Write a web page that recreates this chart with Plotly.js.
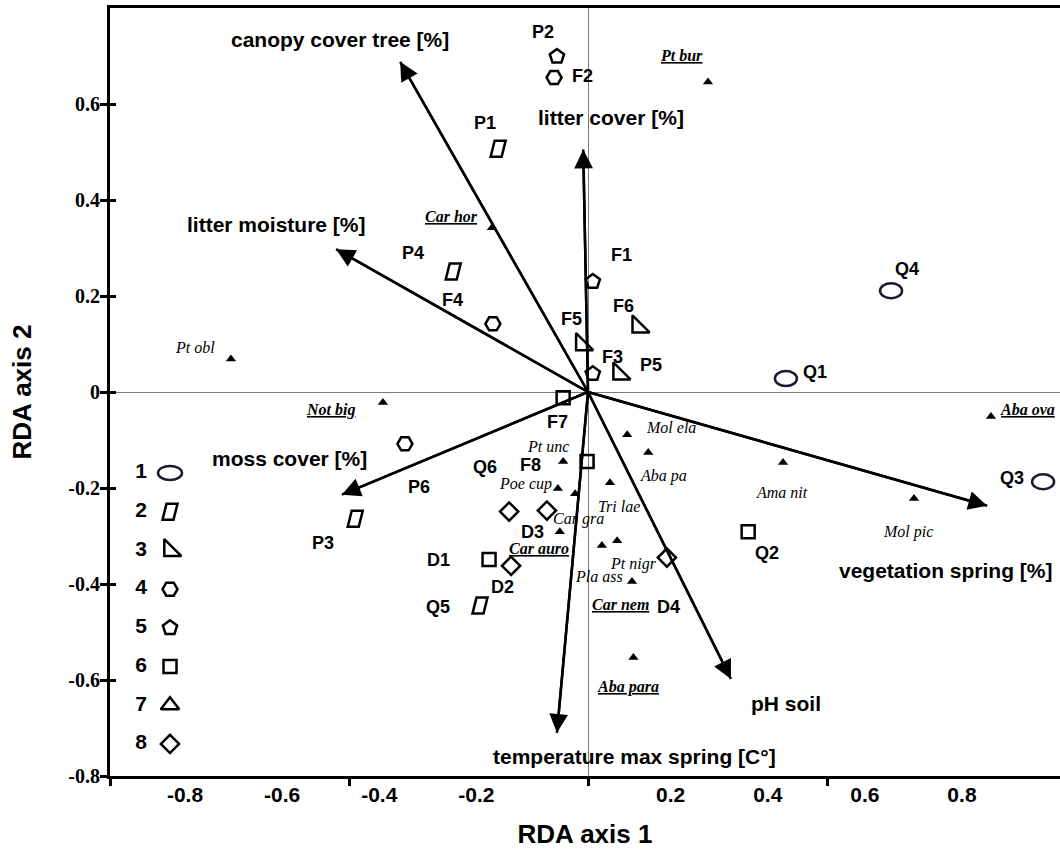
<!DOCTYPE html>
<html><head><meta charset="utf-8">
<script src="https://cdn.plot.ly/plotly-3.0.1.min.js"></script>
<style>html,body{margin:0;padding:0;background:#fff}#chart{width:1060px;height:849px}</style>
</head><body><div id="chart"></div>
<script>
// ---------------- DATA ----------------
// Sites (sample scores), legend group 1..8
const siteNames = ['Q1','Q3','Q4','P1','P4','P3','Q5','F5','F6','P5','F2','F4','P6','P2','F1','F3','F7','F8','D1','Q2','Q6','D3','D2','D4'];
const siteGroup = [1,1,1,2,2,2,2,3,3,3,4,4,4,5,5,5,6,6,6,6,8,8,8,8];
const siteX = [0.414,0.952,0.634,-0.188,-0.282,-0.487,-0.226,-0.013,0.105,0.065,-0.071,-0.199,-0.383,-0.065,0.010,0.010,-0.052,-0.002,-0.207,0.335,-0.165,-0.086,-0.161,0.165];
const siteY = [0.028,-0.187,0.211,0.507,0.251,-0.264,-0.445,0.099,0.136,0.038,0.655,0.142,-0.108,0.699,0.230,0.038,-0.012,-0.145,-0.349,-0.291,-0.249,-0.247,-0.362,-0.345];

// Species scores
const speciesNames = ['Pt bur','Car hor','Pt obl','Not big','Mol ela','Aba pa','Pt unc','Poe cup','Car gra','Car auro','Tri lae','Pla ass','Pt nigr','Car nem','Aba para','Ama nit','Mol pic','Aba ova'];
const speciesX = [0.251,-0.201,-0.747,-0.429,0.082,0.126,-0.052,-0.063,-0.027,-0.059,0.046,0.029,0.061,0.092,0.095,0.408,0.682,0.843];
const speciesY = [0.646,0.342,0.069,-0.022,-0.089,-0.126,-0.145,-0.201,-0.212,-0.291,-0.189,-0.320,-0.310,-0.395,-0.553,-0.147,-0.222,-0.051];

// Environmental variables (biplot arrows)
const envNames = ['canopy cover tree [%]','litter cover [%]','litter moisture [%]','moss cover [%]','vegetation spring [%]','pH soil','temperature max spring [C°]'];
const envX = [-0.393,-0.010,-0.527,-0.515,0.835,0.299,-0.065];
const envY = [0.688,0.505,0.2975,-0.214,-0.237,-0.598,-0.710];

// Legend categories
const legendLabels = ['1','2','3','4','5','6','7','8'];

// Axis ticks
const xTickMarks = [-1,-0.5,0,0.5];
const xLabelVals = [-0.8,-0.6,-0.4,-0.2,0.2,0.4,0.6,0.8];
const xLabelText = ['-0.8','-0.6','-0.4','-0.2','0.2','0.4','0.6','0.8'];
const yTickVals = [0.6,0.4,0.2,0,-0.2,-0.4,-0.6,-0.8];
const yTickText = ['0.6','0.4','0.2','0','-0.2','-0.4','-0.6','-0.8'];

// ---------------- LAYOUT / STYLE ----------------
// label offsets in pixels (dx right, dy down)
const siteLabelDx = [29,-31,16,-13,-40,-32,-42,-10,-15,32,28,-40,14,-14,29,20,-6,-57,-51,19,-24,-14,-9,2];
const siteLabelDy = [-7,-4,-22,-26,-19,24,1,-25,-21,-9,-2,-24,43,-24,-27,-17,24,3,0,21,-45,21,21,49];
const speciesLabelDx = [-26,-40,-36,-52,44,15,-15,-32,3,-21,9,-3,16,-11,-5,-1,-6,37];
const speciesLabelDy = [-26,-11,-11,7,-7,24,-15,-4,25,17,24,31,23,23,30,30,33,-7];
const speciesEmph = [true,true,false,true,false,false,false,false,false,true,false,false,false,true,true,false,false,true];
const envLabelDx = [-60,28,-60,-52,-41,55,78];
const envLabelDy = [-22,-32,-25,-36,65,24,24];

const SANS = 'Liberation Sans';
const SERIF = 'Liberation Serif';
const markerStyle = {
  3:{symbol:'triangle-sw-open', size:19},
  4:{symbol:'hexagon2-open', size:15},
  5:{symbol:'pentagon-open', size:15},
  6:{symbol:'square-open', size:13},
  7:{symbol:'triangle-up-open', size:16},
  8:{symbol:'diamond-open', size:14}
};
const PARA_PATH = 'M-7.5,-8L3.5,-8L7.5,8L-3.5,8Z';

const traces = [];
const shapes = [];
const annotations = [];

// env arrow shafts
const ax = [], ay = [];
envX.forEach((v,i)=>{ ax.push(0, v, null); ay.push(0, envY[i], null); });
traces.push({type:'scatter', mode:'lines', x:ax, y:ay, hoverinfo:'skip', line:{color:'#000', width:2.5}});
// arrow heads at the variable scores
envNames.forEach((n,i)=>annotations.push({x:envX[i], y:envY[i], xref:'x', yref:'y', ax:0, ay:0, axref:'x', ayref:'y',
  text:'', showarrow:true, arrowhead:2, arrowsize:1.5, arrowwidth:2.5, arrowcolor:'#000', standoff:0, startstandoff:0}));

// species triangles
traces.push({type:'scatter', mode:'markers', x:speciesX, y:speciesY, text:speciesNames, hoverinfo:'text',
  marker:{symbol:'triangle-up', size:9, color:'#000'}});

// site markers (standard symbols)
[3,4,5,6,7,8].forEach(g=>{
  const idx = siteGroup.map((gg,i)=>gg===g?i:-1).filter(i=>i>=0);
  if(!idx.length) return;
  traces.push({type:'scatter', mode:'markers', x:idx.map(i=>siteX[i]), y:idx.map(i=>siteY[i]),
    text:idx.map(i=>siteNames[i]), hoverinfo:'text',
    marker:{symbol:markerStyle[g].symbol, size:markerStyle[g].size, color:'#000', line:{width:2.5, color:'#000'}}});
});
// site markers (ellipse / parallelogram) as pixel-sized shapes anchored on data
siteGroup.forEach((g,i)=>{
  if(g===1) shapes.push({type:'circle', xref:'x', yref:'y', xsizemode:'pixel', ysizemode:'pixel',
    xanchor:siteX[i], yanchor:siteY[i], x0:-11, x1:11, y0:-7.5, y1:7.5, line:{color:'#1a1a30', width:2.5}});
  if(g===2) shapes.push({type:'path', xref:'x', yref:'y', xsizemode:'pixel', ysizemode:'pixel',
    xanchor:siteX[i], yanchor:siteY[i], path:PARA_PATH, line:{color:'#000', width:2.5}});
});

// overlay axis helpers
traces.push({type:'scatter', x:[], y:[], xaxis:'x2', yaxis:'y', hoverinfo:'skip'});
traces.push({type:'scatter', x:[], y:[], xaxis:'x', yaxis:'y2', hoverinfo:'skip'});

// legend (own small axes)
traces.push({type:'scatter', mode:'text', x:legendLabels.map(()=>0), y:legendLabels.map((l,i)=>i+1), text:legendLabels,
  xaxis:'x3', yaxis:'y3', hoverinfo:'skip', textfont:{family:SANS, size:21, weight:'bold', color:'#000'}});
[3,4,5,6,7,8].forEach(g=>{
  traces.push({type:'scatter', mode:'markers', x:[1], y:[g], xaxis:'x3', yaxis:'y3', hoverinfo:'skip',
    marker:{symbol:markerStyle[g].symbol, size:markerStyle[g].size, color:'#000', line:{width:2.5, color:'#000'}}});
});
shapes.push({type:'circle', xref:'x3', yref:'y3', xsizemode:'pixel', ysizemode:'pixel', xanchor:1, yanchor:1,
  x0:-12, x1:12, y0:-7, y1:7, line:{color:'#1a1a30', width:2.5}});
shapes.push({type:'path', xref:'x3', yref:'y3', xsizemode:'pixel', ysizemode:'pixel', xanchor:1, yanchor:2,
  path:PARA_PATH, line:{color:'#000', width:2.5}});

// labels
siteNames.forEach((n,i)=>annotations.push({x:siteX[i], y:siteY[i], xref:'x', yref:'y', text:n, showarrow:false,
  xshift:siteLabelDx[i], yshift:-siteLabelDy[i], xanchor:'center', yanchor:'middle',
  font:{family:SANS, size:18, weight:'bold', color:'#000'}}));
speciesNames.forEach((n,i)=>annotations.push({x:speciesX[i], y:speciesY[i], xref:'x', yref:'y', text:n, showarrow:false,
  xshift:speciesLabelDx[i], yshift:-speciesLabelDy[i], xanchor:'center', yanchor:'middle',
  font:{family:SERIF, size:16, style:'italic', weight: speciesEmph[i]?'bold':'normal', lineposition: speciesEmph[i]?'under':'none', color:'#000'}}));
envNames.forEach((n,i)=>annotations.push({x:envX[i], y:envY[i], xref:'x', yref:'y', text:n, showarrow:false,
  xshift:envLabelDx[i], yshift:-envLabelDy[i], xanchor:'center', yanchor:'middle',
  font:{family:SANS, size:21, weight:'bold', color:'#000'}}));

const layout = {
  width:1060, height:849, margin:{l:110, r:0, t:8, b:73, pad:0},
  paper_bgcolor:'#fff', plot_bgcolor:'rgba(0,0,0,0)', showlegend:false,
  font:{family:SANS, color:'#000'},
  xaxis:{range:[-1,0.9874], tickvals:xTickMarks, showticklabels:false, ticks:'outside', ticklen:7, tickwidth:3, tickcolor:'#000',
    showline:true, linewidth:3, linecolor:'#000', mirror:true, showgrid:false,
    zeroline:true, zerolinecolor:'#7a7a7a', zerolinewidth:1, fixedrange:true},
  yaxis:{range:[-0.8,0.8], tickvals:yTickVals, ticktext:yTickText, ticks:'outside', ticklen:7, tickwidth:3, tickcolor:'#000',
    showline:true, linewidth:3, linecolor:'#000', showgrid:false,
    zeroline:true, zerolinecolor:'#7a7a7a', zerolinewidth:1, fixedrange:true, ticklabelstandoff:-4,
    tickfont:{family:SERIF, size:20, weight:'bold', color:'#000'},
    title:{text:'RDA axis 2', standoff:30, font:{family:SANS, size:26, weight:'bold', color:'#000'}}},
  xaxis2:{overlaying:'x', anchor:'y', side:'bottom', range:[-0.9545,1.0019], tickvals:xLabelVals, ticktext:xLabelText,
    ticks:'', showline:false, showgrid:false, zeroline:false, fixedrange:true, ticklabelstandoff:4,
    tickfont:{family:SANS, size:21, weight:'bold', color:'#000'},
    title:{text:'RDA axis 1', font:{family:SANS, size:26, weight:'bold', color:'#000'}}},
  yaxis2:{overlaying:'y', anchor:'x', range:[-0.8,0.8], tickvals:yTickVals, ticks:'inside', ticklen:6, tickwidth:3, tickcolor:'#000',
    showticklabels:false, showline:false, showgrid:false, zeroline:false, fixedrange:true},
  xaxis3:{domain:[0,0.2], anchor:'y3', range:[-1.069,5.483], visible:false, fixedrange:true},
  yaxis3:{domain:[0,0.45], anchor:'x3', range:[8.827,-0.1], visible:false, fixedrange:true},
  shapes:shapes, annotations:annotations
};

Plotly.newPlot('chart', traces, layout, {displayModeBar:false, staticPlot:true});
</script></body></html>
